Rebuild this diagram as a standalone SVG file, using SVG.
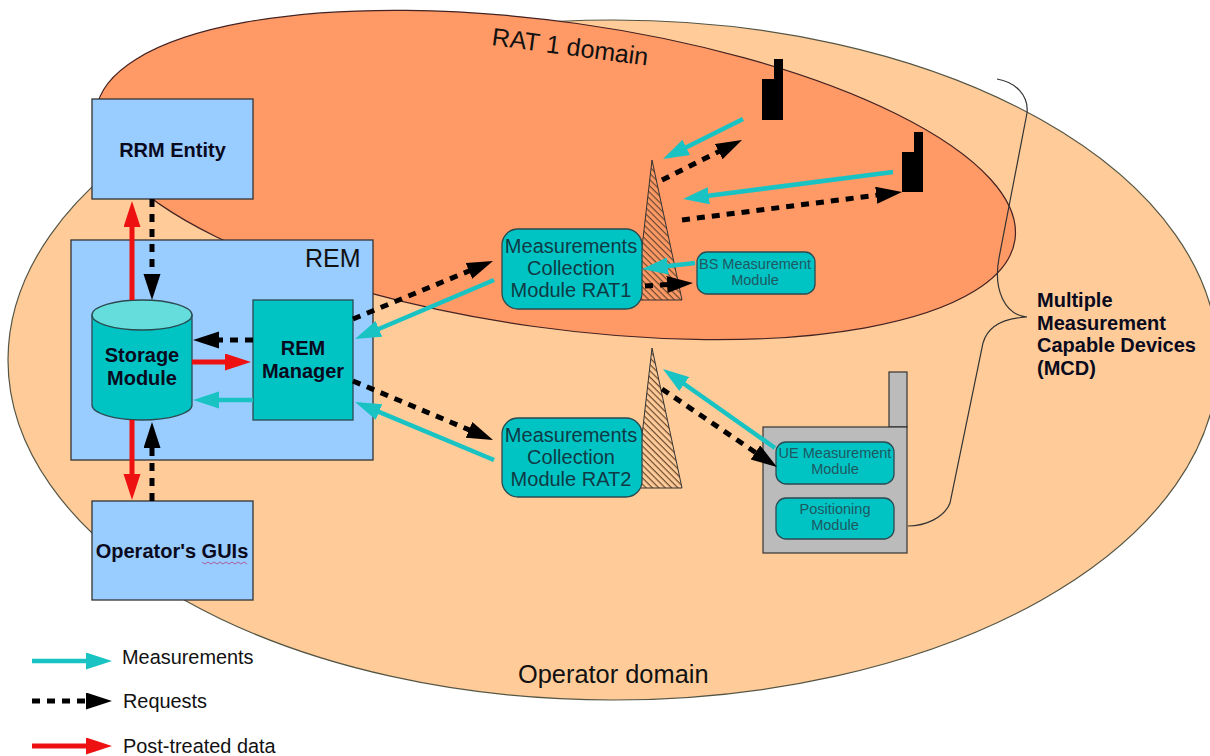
<svg xmlns="http://www.w3.org/2000/svg" width="1210" height="756" viewBox="0 0 1210 756">
<style>
text{font-family:"Liberation Sans",Arial,sans-serif;fill:#111}
.b{font-weight:bold;fill:#0a0a1e;font-size:20px}
.box{fill:#99ccff;stroke:#333;stroke-width:1.3}
.tl{fill:#00c4c4;stroke:#2a4a50;stroke-width:1.3}
.m{font-size:20px;fill:#0f3a44}
.s{font-size:14.5px;fill:#1f5860}
.meas,.req,.post{fill:none}
.meas{stroke:#19c3c3;stroke-width:4.500}.req{stroke:#000;stroke-width:5;stroke-dasharray:8 7}.post{stroke:#ee1111;stroke-width:5}
.lg{font-size:19.900px}
</style>
<defs>
<marker id="am" markerUnits="userSpaceOnUse" markerWidth="26" markerHeight="18" refX="6" refY="8.500" orient="auto"><path d="M0 0L26 8.500L0 17z" fill="#19c3c3"/></marker>
<marker id="ar" markerUnits="userSpaceOnUse" markerWidth="26" markerHeight="18" refX="6" refY="8.500" orient="auto"><path d="M0 0L26 8.500L0 17z" fill="#000"/></marker>
<marker id="ap" markerUnits="userSpaceOnUse" markerWidth="26" markerHeight="18" refX="6" refY="8.500" orient="auto"><path d="M0 0L26 8.500L0 17z" fill="#ee1111"/></marker>
<pattern id="h" width="4.500" height="4.500" patternUnits="userSpaceOnUse" patternTransform="rotate(45)"><rect width="4.500" height="1.200" fill="#6b4a30"/></pattern>
</defs>
<rect width="1210" height="756" fill="#fff"/>
<g id="operator-domain"><ellipse cx="613" cy="360" rx="605" ry="340" fill="#ffcc99" stroke="#554" stroke-width="1.200"/><text x="518" y="683" font-size="25.400">Operator domain</text></g>
<g id="rat1-domain"><ellipse cx="555.500" cy="175" rx="464" ry="153" transform="rotate(8 555.500 175)" fill="#ff9966" stroke="#422" stroke-width="1.200"/><text x="491" y="45" font-size="25" transform="rotate(7.500 491 45)">RAT 1 domain</text></g>
<g id="mcd-brace"><path d="M997 79C1015 82 1029 95 1027 113L999 258C993 290 1005 315 1027 317C1005 318 988 325 983 343L950 503C944 518 925 526 908 526" fill="none" stroke="#333" stroke-width="1.200"/></g>
<g id="mcd-label"><text class="b"><tspan x="1037" y="307">Multiple</tspan><tspan x="1037" y="329.500">Measurement</tspan><tspan x="1037" y="352">Capable Devices</tspan><tspan x="1037" y="375">(MCD)</tspan></text></g>
<g id="tower1"><path d="M652 160L682 300H636z" fill="url(#h)" stroke="#333"/></g>
<g id="tower2"><path d="M652 348L682 488H636z" fill="url(#h)" stroke="#333"/></g>
<g id="terminal1"><path d="M762 79H774V59H783V120H762z" fill="#000"/></g>
<g id="terminal2"><path d="M902 152H914V132H923V192H902z" fill="#000"/></g>
<g id="rrm-entity"><rect class="box" x="92" y="99" width="161" height="100"/><text class="b" x="172.500" y="157" text-anchor="middle">RRM Entity</text></g>
<g id="rem"><rect class="box" x="71" y="240" width="302" height="220"/><text x="305" y="267" font-size="25" fill="#1a1a33">REM</text></g>
<g id="storage-module"><path class="tl" d="M92 315V405A50 15 0 0 0 192 405V315z"/><ellipse cx="142" cy="315" rx="50" ry="15" fill="#66dddd" stroke="#2a4a50" stroke-width="1.300"/><text class="b" text-anchor="middle"><tspan x="142" y="362">Storage</tspan><tspan x="142" y="385">Module</tspan></text></g>
<g id="rem-manager"><rect class="tl" x="253" y="300" width="100" height="120"/><text class="b" text-anchor="middle"><tspan x="303" y="355">REM</tspan><tspan x="303" y="378">Manager</tspan></text></g>
<g id="operators-guis"><rect class="box" x="92" y="501" width="161" height="99"/><text class="b" x="172" y="558" text-anchor="middle">Operator's GUIs</text><path d="M202 562l3 2 3-2 3 2 3-2 3 2 3-2 3 2 3-2 3 2 3-2 3 2 3-2 3 2 3-2 3 2" fill="none" stroke="#b04080" stroke-width=".8"/></g>
<g id="mcm-rat1"><rect class="tl" x="502" y="229" width="140" height="80" rx="16"/><text class="m" text-anchor="middle"><tspan x="571" y="253">Measurements</tspan><tspan x="571" y="275">Collection</tspan><tspan x="571" y="297">Module RAT1</tspan></text></g>
<g id="mcm-rat2"><rect class="tl" x="502" y="418" width="140" height="79" rx="16"/><text class="m" text-anchor="middle"><tspan x="571" y="442">Measurements</tspan><tspan x="571" y="464">Collection</tspan><tspan x="571" y="486">Module RAT2</tspan></text></g>
<g id="bs-module"><rect class="tl" x="697" y="252" width="118" height="42" rx="10"/><text class="s" text-anchor="middle"><tspan x="755" y="269">BS Measurement</tspan><tspan x="755" y="285">Module</tspan></text></g>
<g id="mcd-device"><rect x="889" y="372" width="18" height="55" fill="#bbbbbb" stroke="#333" stroke-width="1.200"/><rect x="763" y="427" width="144" height="126" fill="#bbbbbb" stroke="#333" stroke-width="1.200"/></g>
<g id="ue-module"><rect class="tl" x="776" y="442" width="118" height="42" rx="10"/><text class="s" text-anchor="middle"><tspan x="835" y="458">UE Measurement</tspan><tspan x="835" y="474">Module</tspan></text></g>
<g id="positioning-module"><rect class="tl" x="776" y="498" width="118" height="41" rx="10"/><text class="s" text-anchor="middle"><tspan x="835" y="514">Positioning</tspan><tspan x="835" y="530">Module</tspan></text></g>
<g id="connectors">
<path class="post" marker-end="url(#ap)" d="M132 300V221"/>
<path class="req" marker-end="url(#ar)" d="M152 199V280"/>
<path class="post" marker-end="url(#ap)" d="M132 420V480"/>
<path class="req" marker-end="url(#ar)" d="M152 501V442"/>
<path class="req" marker-end="url(#ar)" d="M253 340H213"/>
<path class="post" marker-end="url(#ap)" d="M192 362H231"/>
<path class="meas" marker-end="url(#am)" d="M253 400H213"/>
<path class="req" marker-end="url(#ar)" d="M353 319L474.500 268.700"/>
<path class="meas" marker-end="url(#am)" d="M494 280L373.400 331.200"/>
<path class="req" marker-end="url(#ar)" d="M353 381L474.600 432.200"/>
<path class="meas" marker-end="url(#am)" d="M494 460L373.500 409.700"/>
<path class="meas" marker-end="url(#am)" d="M743 119L680.900 150"/>
<path class="req" marker-end="url(#ar)" d="M662 180L724.100 148.900"/>
<path class="meas" marker-end="url(#am)" d="M893 172L702.800 196.500"/>
<path class="req" marker-end="url(#ar)" d="M682 220L882.200 194.500"/>
<path class="meas" marker-end="url(#am)" d="M695 263L661.900 266.700"/>
<path class="req" marker-end="url(#ar)" d="M645 286L673 284.200"/>
<path class="meas" marker-end="url(#am)" d="M775 448L679.300 380.500"/>
<path class="req" marker-end="url(#ar)" d="M662 389L760.400 455.800"/>
</g>
<g id="legend">
<path class="meas" marker-end="url(#am)" d="M32 661H92"/>
<path class="req" marker-end="url(#ar)" d="M32 701H92"/>
<path class="post" marker-end="url(#ap)" d="M32 746H92"/>
<text class="lg" x="122" y="664">Measurements</text>
<text class="lg" x="123" y="708">Requests</text>
<text class="lg" x="123" y="753">Post-treated data</text>
</g>
</svg>
